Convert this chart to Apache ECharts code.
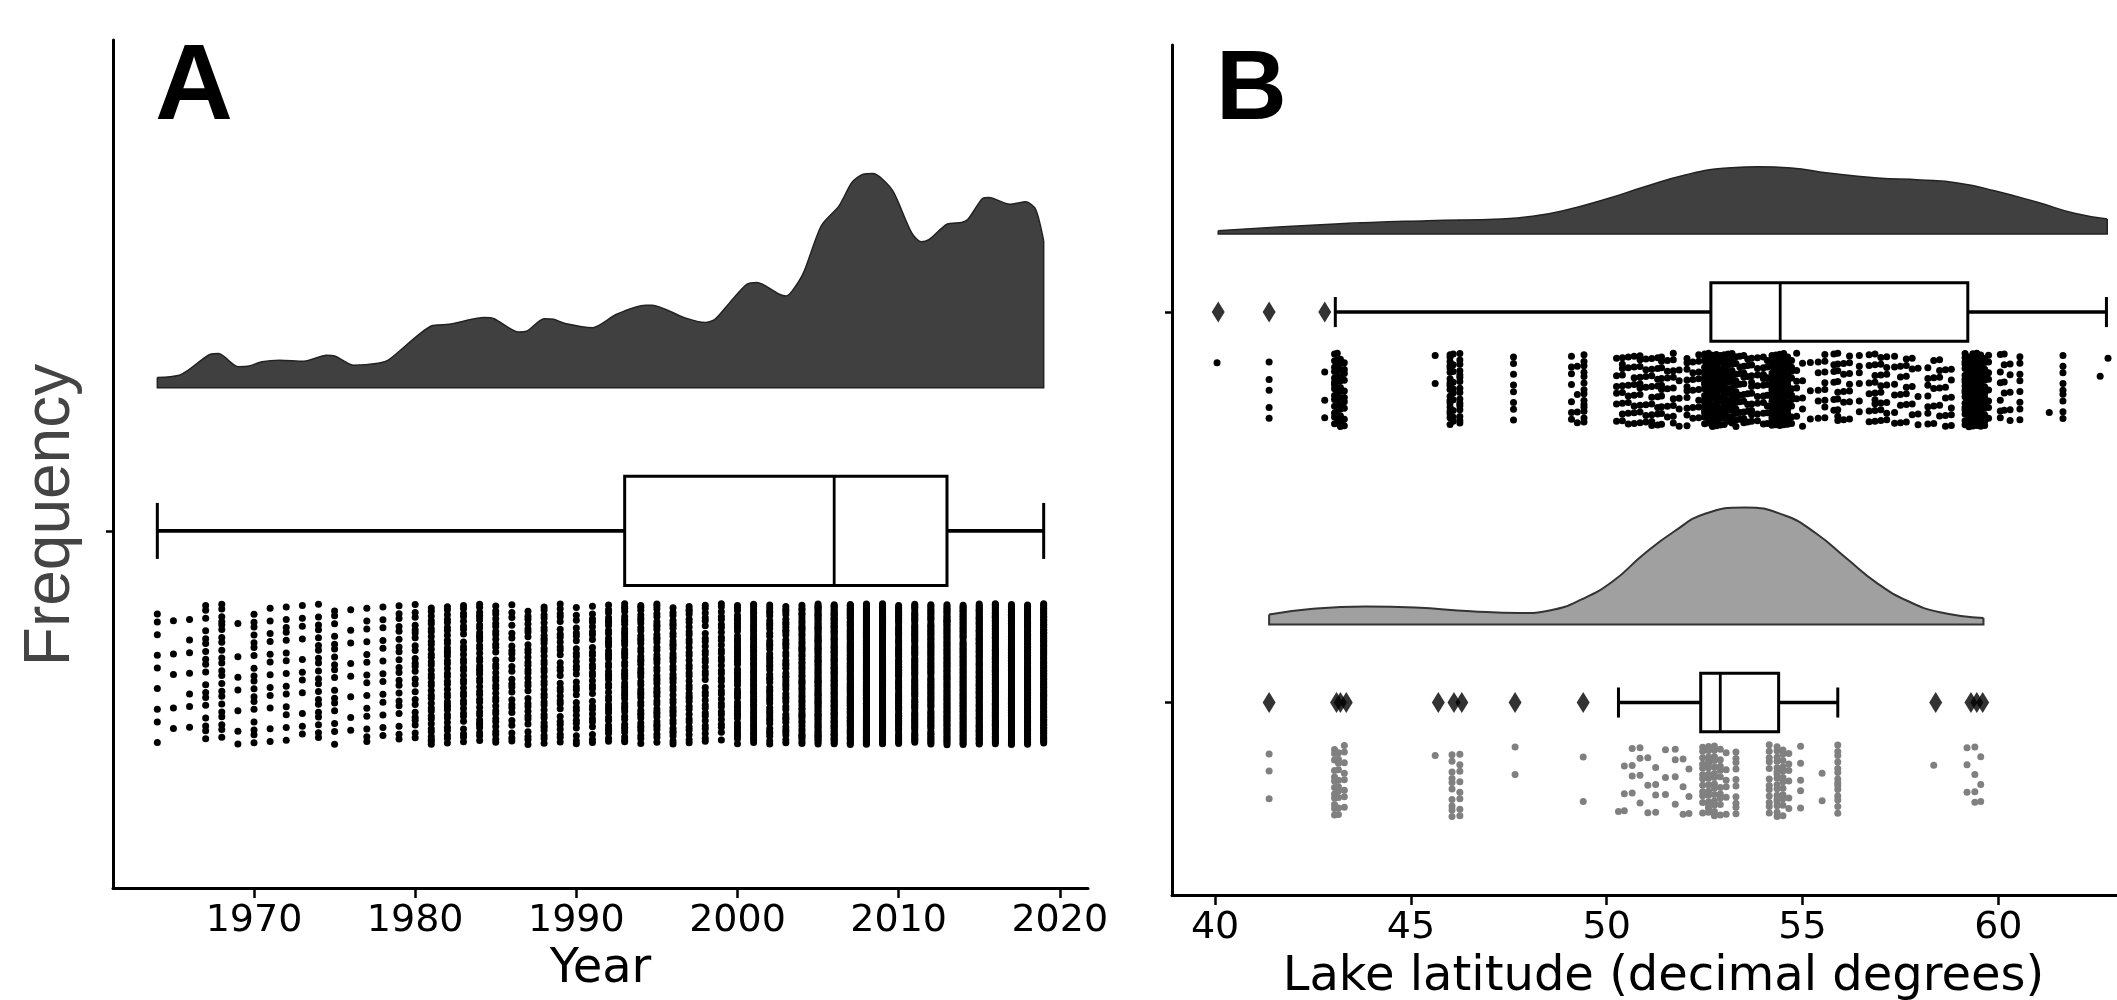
<!DOCTYPE html>
<html><head><meta charset="utf-8">
<script src="https://cdn.jsdelivr.net/npm/echarts@6/dist/echarts.min.js"></script>
<style>html,body{margin:0;padding:0;background:#fff}#c{width:2117px;height:1000px}</style>
</head><body><div id="c"></div>
<script>
// ================= DATA =================
// ---- Panel A : sampling year ----
const yearTicks = [1970, 1980, 1990, 2000, 2010, 2020];
const stripYears = [1964,1965,1966,1967,1968,1969,1970,1971,1972,1973,1974,1975,1976,1977,1978,1979,
  1980,1981,1982,1983,1984,1985,1986,1987,1988,1989,1990,1991,1992,1993,1994,1995,1996,1997,1998,1999,
  2000,2001,2002,2003,2004,2005,2006,2007,2008,2009,2010,2011,2012,2013,2014,2015,2016,2017,2018,2019];
const stripYearCounts = [9,5,7,18,22,7,18,12,14,11,20,17,8,14,13,20,
  24,35,36,32,38,33,25,30,36,30,28,30,40,45,42,42,40,36,32,33,
  48,55,46,44,60,100,110,130,130,120,80,80,85,90,88,110,100,100,100,90];
const densYearX = [1964.0,1965.3,1966.0,1967.3,1967.8,1969.0,1969.7,1970.5,1971.6,1973.1,1974.5,1975.0,1976.2,1977.7,1978.4,
  1981.0,1982.1,1984.3,1984.9,1986.4,1986.9,1988.0,1988.6,1989.3,1991.0,1992.5,1994.3,1994.7,1996.7,1998.0,1998.6,
  1999.7,2000.6,2001.2,2002.6,2003.0,2003.4,2004.1,2005.2,2006.3,2007.1,2007.8,2008.4,2009.0,2009.7,2010.8,2011.4,
  2011.9,2013.0,2013.9,2014.3,2015.2,2015.6,2016.9,2017.9,2018.5,2019.0];
const densYearV = [4.7,5.7,8.6,15.6,15.9,9.8,10.1,12.1,12.8,12.3,15.1,14.8,10.4,11.4,13.2,
  28.8,29.6,32.7,32.2,26.0,26.3,32.2,31.9,30.0,28.0,34.3,38.5,38.5,32.7,30.4,31.9,
  41.3,48.3,49.1,43.6,42.8,45.2,53.7,75.6,84.9,95.8,99.7,100,97.3,91.1,72.4,68.1,
  69.3,76.3,77.1,78.6,88.3,88.8,85.7,86.8,83.3,68.5];
// box: [whisker low, q1, median, q3, whisker high]
const boxYear = [1964, 1993, 2006, 2013, 2019];

// ---- Panel B : lake latitude ----
const latTicks = [40, 45, 50, 55, 60];
const allLat = [40.05,41.38,42.8,43.05,43.12,43.2,43.3,45.62,46.0,46.08,46.25,47.62,49.1,49.25,49.42,
  50.25,50.4,50.55,50.7,50.85,51.0,51.15,51.3,51.4,51.55,51.7,51.85,52.05,52.2,52.35,
  52.5,52.6,52.7,52.8,52.9,53.0,53.1,53.2,53.3,53.4,53.5,53.6,53.7,53.85,54.0,54.1,
  54.22,54.32,54.42,54.52,54.62,54.72,54.85,55.0,55.2,55.4,55.57,55.8,55.9,56.05,56.2,56.45,56.7,56.85,
  57.0,57.15,57.35,57.5,57.65,57.8,57.95,58.2,58.35,58.5,58.65,58.8,
  59.15,59.25,59.35,59.45,59.55,59.65,59.75,60.05,60.15,60.3,60.55,61.3,61.65,62.6,62.8];
const allLatCounts = [1,5,3,14,14,14,10,2,18,10,16,8,7,4,14,
  6,9,7,8,10,7,9,8,10,6,9,5,10,6,8,
  18,22,20,24,16,20,14,18,12,8,10,7,10,8,9,8,
  20,26,30,24,18,10,6,5,3,5,8,6,9,5,7,6,6,9,
  8,7,6,5,7,5,4,7,5,6,5,6,
  18,22,26,28,24,16,8,6,5,5,8,1,9,1,1];
const glLat = [41.38,43.05,43.15,43.3,45.62,46.05,46.25,47.66,49.4,50.3,50.45,50.65,50.85,51.05,51.25,51.5,51.75,51.95,52.1,
  52.45,52.6,52.75,52.9,53.05,53.3,54.15,54.35,54.5,54.65,54.95,55.5,55.9,58.35,59.2,59.4,59.55];
const glLatCounts = [3,12,10,8,1,10,8,2,2,1,3,4,4,3,4,3,4,3,3,
  12,15,14,10,6,10,12,16,12,6,5,2,14,1,3,4,3];
const densAllX = [40.08,43.07,45.43,47.31,48.10,48.89,49.99,50.93,52.03,52.98,53.84,54.71,55.65,56.91,58.01,58.96,59.90,61.00,61.94,62.78];
const densAllV = [0.028,0.085,0.114,0.128,0.151,0.199,0.299,0.399,0.507,0.562,0.575,0.564,0.521,0.479,0.462,0.436,0.370,0.271,0.177,0.128];
const densGlX = [41.38,42.44,43.85,45.11,46.53,47.79,48.57,49.36,50.15,50.93,51.72,52.51,53.53,54.55,55.34,56.12,56.91,57.70,58.48,59.62];
const densGlV = [0.085,0.132,0.153,0.144,0.113,0.097,0.122,0.214,0.367,0.595,0.794,0.946,1.0,0.931,0.779,0.565,0.351,0.198,0.107,0.055];
const boxAll = [43.07, 52.66, 54.43, 59.22, 62.76];
const boxGl = [50.30, 52.40, 52.90, 54.39, 55.90];
const outAll = [40.08, 41.38, 42.8];
const outGl = [41.38, 43.1, 43.2, 43.35, 45.7, 46.1, 46.3, 47.66, 49.4, 58.4, 59.3, 59.45, 59.6];

// ================= LAYOUT / STYLE =================
const FONT = 'DejaVu Sans';
const BOX_HALF = 0.075, CAP_HALF = 0.0385;
const VIOL_OFF_A = 0.197, VIOL_OFF_B = 0.2;
const SCALE_A = 0.2944 / 100, SCALE_B = 0.2996;

function jitterPos(pos, k, col, lo, hi) {
  const f = (col * 0.7548776662 + k * 0.6180339887 + 0.13) % 1;
  return pos + lo + f * (hi - lo);
}
function stripData(xs, counts, pos, lo, hi) {
  const out = [];
  xs.forEach((x, i) => { for (let k = 0; k < counts[i]; k++) out.push([x, jitterPos(pos, k, i, lo, hi)]); });
  return out;
}

function xAxisCfg(gi, min, max, ticks, name, gap) {
  return {type:'value', gridIndex:gi, min, max, name, nameLocation:'middle', nameGap:gap,
    nameTextStyle:{fontFamily:FONT, fontSize:48, color:'#000'},
    axisLine:{show:true, onZero:false, lineStyle:{color:'#000', width:3}},
    axisTick:{show:true, customValues:ticks, length:10, lineStyle:{color:'#000', width:2.5}},
    axisLabel:{show:true, customValues:ticks, margin:14, fontFamily:FONT, fontSize:38, color:'#000',
      formatter:(v) => String(Math.round(v))},
    splitLine:{show:false}};
}
function yAxisCfg(gi, min, max, ticks) {
  return {type:'value', gridIndex:gi, min, max, inverse:true,
    axisLine:{show:true, onZero:false, lineStyle:{color:'#000', width:3}},
    axisTick:{show:true, customValues:ticks, length:7, lineStyle:{color:'#000', width:2.5}},
    axisLabel:{show:false}, splitLine:{show:false}};
}
function densitySeries(gi, xs, vs, pos, off, scale, fill, edge, lw, smooth) {
  const base = pos - off;
  const data = xs.map((x, i) => [x, base - vs[i] * scale]);
  const n = data.length - 1;
  return [
    {type:'line', xAxisIndex:gi, yAxisIndex:gi, data, smooth, symbol:'none', showSymbol:false,
     lineStyle:{color:edge, width:lw}, areaStyle:{color:fill, opacity:1, origin:base}, silent:true, z:2, animation:false},
    {type:'custom', xAxisIndex:gi, yAxisIndex:gi, silent:true, z:3,
     data:[[data[0][0], data[0][1], data[n][0], data[n][1], base]],
     encode:{x:[0,2], y:[1,3,4]},
     renderItem:(p, api) => {
       const a = api.coord([api.value(0), api.value(1)]), b = api.coord([api.value(0), api.value(4)]);
       const c = api.coord([api.value(2), api.value(4)]), d = api.coord([api.value(2), api.value(3)]);
       return {type:'polyline', shape:{points:[a,b,c,d]}, style:{stroke:edge, lineWidth:lw, fill:null}};
     }}
  ];
}
function boxSeries(gi, rows) {
  return {type:'custom', xAxisIndex:gi, yAxisIndex:gi, silent:true, z:4, data:rows,
    encode:{x:[0,1,2,3,4], y:5},
    renderItem:(p, api) => {
      const lo=api.value(0), q1=api.value(1), med=api.value(2), q3=api.value(3), hi=api.value(4), pos=api.value(5);
      const P = (x, y) => api.coord([x, y]);
      const ln = (A, B, w) => ({type:'line', shape:{x1:A[0], y1:A[1], x2:B[0], y2:B[1]}, style:{stroke:'#000', lineWidth:w}});
      const r1 = P(q1, pos - BOX_HALF), r2 = P(q3, pos + BOX_HALF);
      return {type:'group', children:[
        ln(P(lo,pos), P(q1,pos), 3.6), ln(P(q3,pos), P(hi,pos), 3.6),
        ln(P(lo,pos-CAP_HALF), P(lo,pos+CAP_HALF), 3), ln(P(hi,pos-CAP_HALF), P(hi,pos+CAP_HALF), 3),
        {type:'rect', shape:{x:Math.min(r1[0],r2[0]), y:Math.min(r1[1],r2[1]), width:Math.abs(r2[0]-r1[0]), height:Math.abs(r2[1]-r1[1])},
         style:{fill:'#fff', stroke:'#000', lineWidth:3}},
        ln(P(med,pos-BOX_HALF), P(med,pos+BOX_HALF), 2.8)
      ]};
    }};
}
function dots(gi, data, color) {
  return {type:'scatter', xAxisIndex:gi, yAxisIndex:gi, data, symbol:'circle', symbolSize:7, silent:true, z:5,
    itemStyle:{color, opacity:1}};
}
function outliers(gi, xs, pos) {
  return {type:'scatter', xAxisIndex:gi, yAxisIndex:gi, data:xs.map(x => [x, pos]), symbol:'diamond', symbolSize:[13,21],
    silent:true, z:6, itemStyle:{color:'#000'}};
}

const option = {
  animation:false,
  backgroundColor:'#fff',
  grid:[
    {left:113, top:40, width:975, height:848, outerBoundsMode:'none', containLabel:false},
    {left:1172, top:45, width:983, height:850, outerBoundsMode:'none', containLabel:false}
  ],
  xAxis:[
    xAxisCfg(0, 1961.25, 2021.75, yearTicks, 'Year', 58),
    xAxisCfg(1, 38.9, 64.0, latTicks, 'Lake latitude (decimal degrees)', 59)
  ],
  yAxis:[
    yAxisCfg(0, -0.675, 0.491, [0]),
    yAxisCfg(1, -0.684, 1.493, [0, 1])
  ],
  graphic:[
    {type:'text', x:155, y:35, style:{text:'A', fontFamily:'Liberation Sans', fontWeight:'bold', fontSize:108, fill:'#000', align:'left', textAlign:'left', verticalAlign:'top', textVerticalAlign:'top'}},
    {type:'text', x:1216, y:43, style:{text:'B', fontFamily:'Liberation Sans', fontWeight:'bold', fontSize:98, fill:'#000', align:'left', textAlign:'left', verticalAlign:'top', textVerticalAlign:'top'}},
    {type:'text', x:51, y:515, rotation:Math.PI/2, style:{text:'Frequency', fontFamily:'Liberation Sans', fontSize:64, fill:'#444', align:'center', textAlign:'center', verticalAlign:'middle', textVerticalAlign:'middle'}}
  ],
  series:[
    ...densitySeries(0, densYearX, densYearV, 0, VIOL_OFF_A, SCALE_A, '#404040', '#222', 1.5, 0.25),
    boxSeries(0, [[...boxYear, 0]]),
    dots(0, stripData(stripYears, stripYearCounts, 0, 0.1, 0.294), '#000'),
    ...densitySeries(1, densAllX, densAllV, 0, VIOL_OFF_B, SCALE_B, '#404040', '#222', 1.5, 0.5),
    ...densitySeries(1, densGlX, densGlV, 1, VIOL_OFF_B, SCALE_B, '#a0a0a0', '#333', 2, 0.5),
    boxSeries(1, [[...boxAll, 0], [...boxGl, 1]]),
    outliers(1, outAll, 0),
    outliers(1, outGl, 1),
    dots(1, stripData(allLat, allLatCounts, 0, 0.105, 0.294), '#000'),
    dots(1, stripData(glLat, glLatCounts, 1, 0.108, 0.293), '#808080')
  ]
};
const chart = echarts.init(document.getElementById('c'), null, {renderer:'canvas', width:2117, height:1000});
chart.setOption(option);
</script>
</body></html>
